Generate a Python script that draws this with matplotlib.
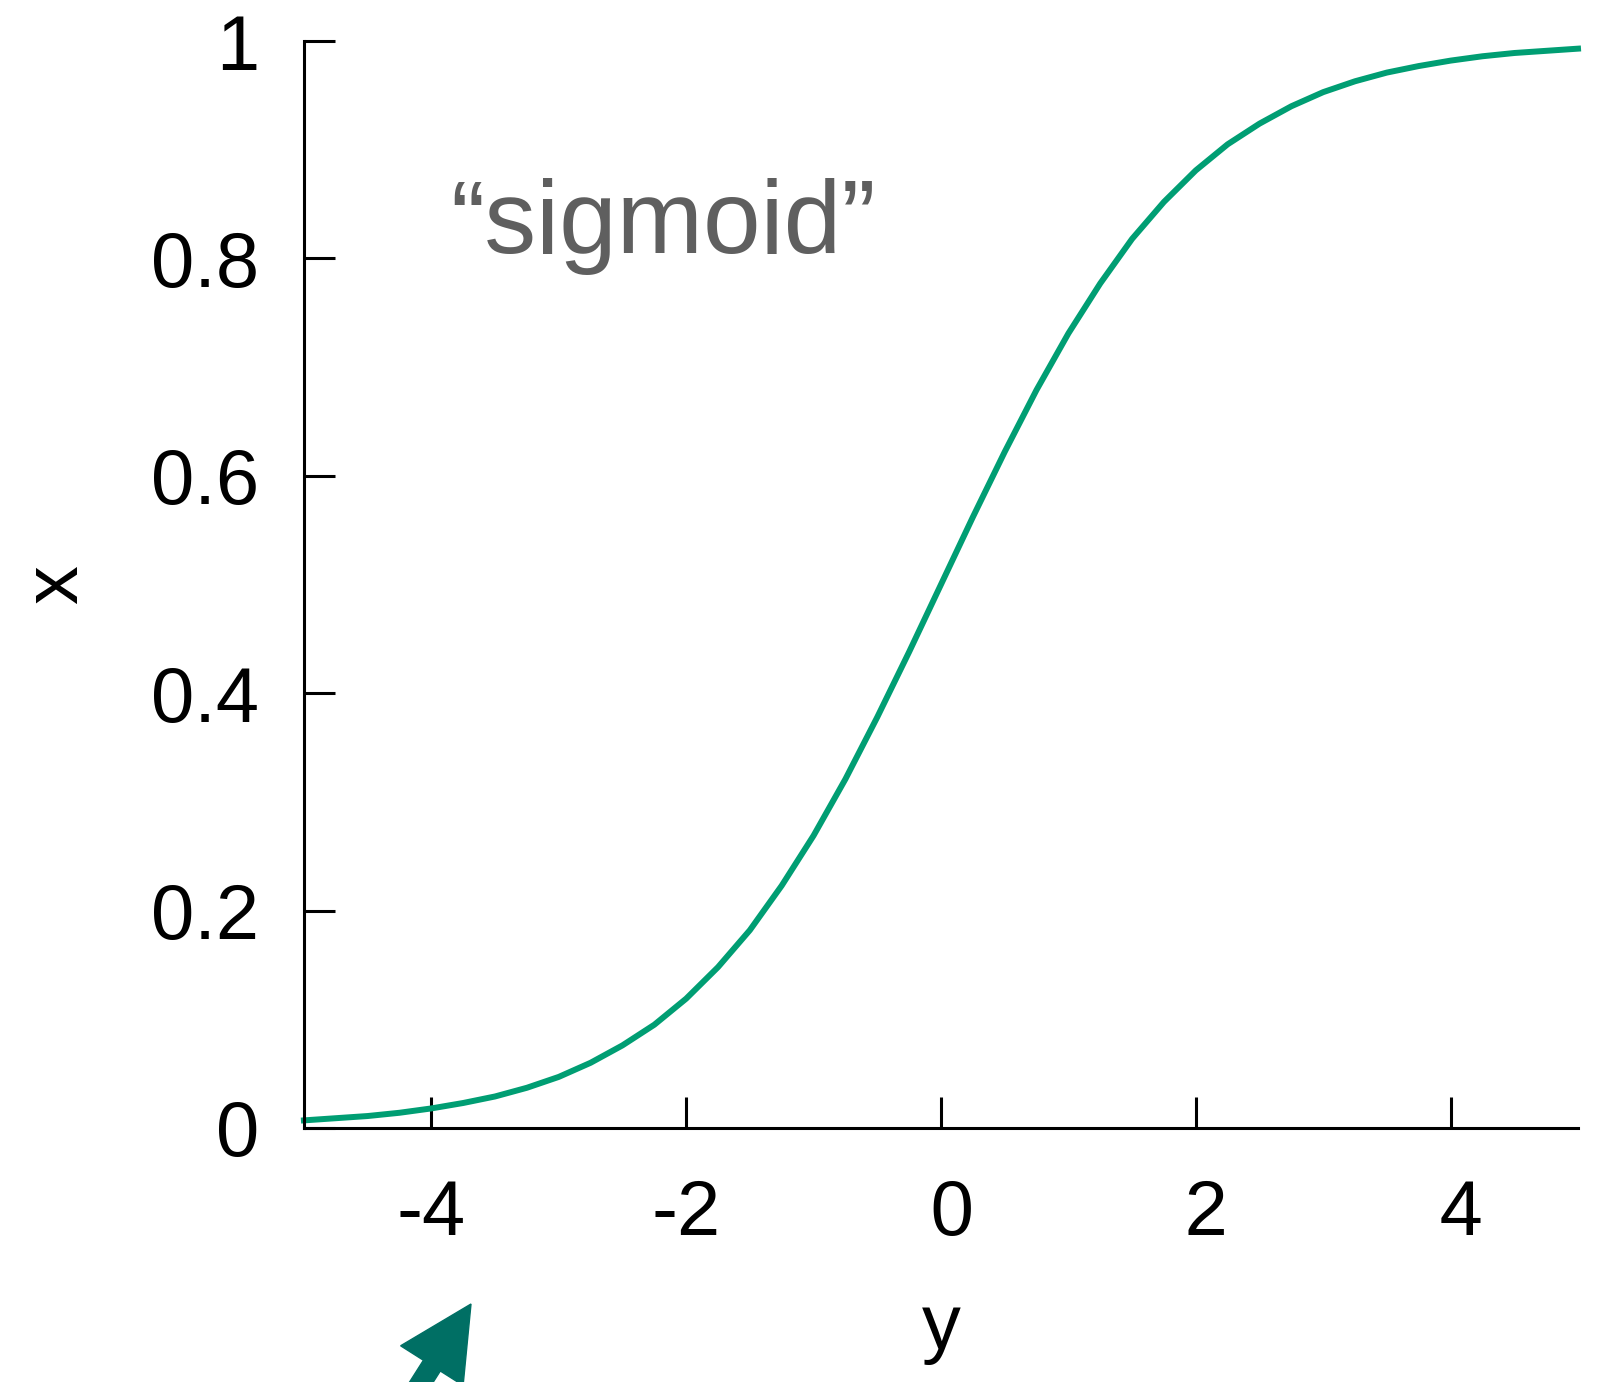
import numpy as np
import matplotlib
matplotlib.use("Agg")
import matplotlib.pyplot as plt
from matplotlib.patches import FancyArrow
from matplotlib.transforms import IdentityTransform

# values
y_vals = [-5.0, -4.75, -4.5, -4.25, -4.0, -3.75, -3.5, -3.25, -3.0, -2.75,
          -2.5, -2.25, -2.0, -1.75, -1.5, -1.25, -1.0, -0.75, -0.5, -0.25,
          0.0, 0.25, 0.5, 0.75, 1.0, 1.25, 1.5, 1.75, 2.0, 2.25,
          2.5, 2.75, 3.0, 3.25, 3.5, 3.75, 4.0, 4.25, 4.5, 4.75, 5.0]
x_vals = [0.007, 0.009, 0.011, 0.014, 0.018, 0.023, 0.029, 0.037, 0.047, 0.060,
          0.076, 0.095, 0.119, 0.148, 0.182, 0.223, 0.269, 0.321, 0.378, 0.438,
          0.500, 0.562, 0.622, 0.679, 0.731, 0.777, 0.818, 0.852, 0.881, 0.905,
          0.924, 0.940, 0.953, 0.963, 0.971, 0.977, 0.982, 0.986, 0.989, 0.991, 0.993]

xticks = [-4, -2, 0, 2, 4]
xtick_labels = ["-4", "-2", " 0", " 2", " 4"]
yticks = [0, 0.2, 0.4, 0.6, 0.8, 1]
ytick_labels = ["0", "0.2", "0.4", "0.6", "0.8", "1"]

plt.rcParams["font.family"] = ["Liberation Sans", "DejaVu Sans"]
plt.rcParams["axes.unicode_minus"] = False

fig = plt.figure(figsize=(16.15, 13.82), dpi=100)
ax = fig.add_axes([0.1882, 0.1838, 0.7889, 0.7865])

ax.plot(y_vals, x_vals, color="#009e73", lw=4.3, clip_on=False,
        solid_joinstyle="round")

ax.set_xlim(-5, 5)
ax.set_ylim(0, 1)
ax.set_xticks(xticks)
ax.set_xticklabels(xtick_labels)
ax.set_yticks(yticks)
ax.set_yticklabels(ytick_labels)

for s in ["top", "right"]:
    ax.spines[s].set_visible(False)
for s in ["left", "bottom"]:
    ax.spines[s].set_linewidth(2.2)

ax.tick_params(axis="both", direction="in", length=22, width=2.2, labelsize=56)
ax.tick_params(axis="y", pad=32)
ax.tick_params(axis="x", pad=36)

ax.set_xlabel("y", fontsize=56, va="baseline")
ax.xaxis.set_label_coords(0.5, -0.203)
ax.set_ylabel("x", fontsize=56, rotation=90, va="center", ha="center")
ax.yaxis.set_label_coords(-0.194, 0.5)

ax.text(-2.18, 0.805, "\u201csigmoid\u201d", fontsize=74.5, color="#5f5f5f",
        ha="center", va="baseline")

# arrow pointing up-right at the bottom, cut by the figure edge
tip = np.array([471.0, 1382 - 1304.0])
d = np.array([0.536, 0.844])
L = 200
start = tip - L * d
arrow = FancyArrow(start[0], start[1], L * d[0], L * d[1], width=20,
                   head_width=74, head_length=73, length_includes_head=True,
                   color="#006f64", transform=IdentityTransform())
fig.patches.append(arrow)

fig.savefig("out.png", dpi=100)
